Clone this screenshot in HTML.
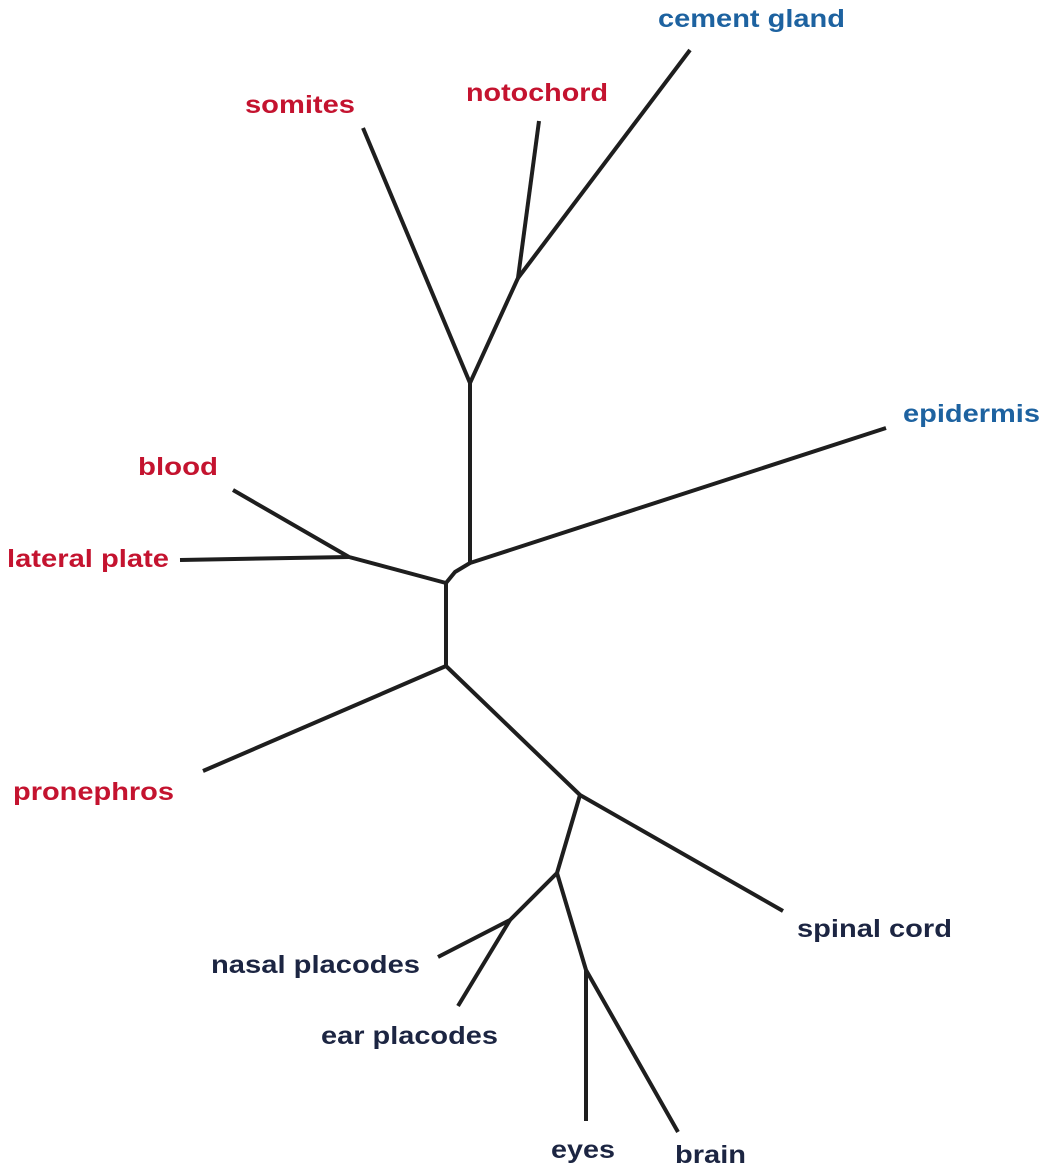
<!DOCTYPE html>
<html><head><meta charset="utf-8"><style>
html,body{margin:0;padding:0;background:#fff;}
svg{display:block;}
text{font-family:"Liberation Sans",Arial,sans-serif;font-weight:bold;font-size:25px;}
.r{fill:#c4132f}.b{fill:#1d62a0}.n{fill:#1c2542}
</style></head><body>
<svg width="1046" height="1175" viewBox="0 0 1046 1175" xmlns="http://www.w3.org/2000/svg">
<g stroke="#1e1e1e" stroke-width="4" fill="none" stroke-linecap="butt" stroke-linejoin="round">
<line x1="363" y1="128" x2="470" y2="383"/>
<line x1="539" y1="121" x2="518" y2="278"/>
<line x1="690" y1="50" x2="518" y2="278"/>
<polyline points="518,278 470,383 470,563 886,428"/>
<polyline points="470,563 455,572 446,583 349,557 233,490"/>
<line x1="180" y1="560" x2="349" y2="557"/>
<line x1="446" y1="583" x2="446" y2="666"/>
<line x1="446" y1="666" x2="203" y2="771"/>
<polyline points="446,666 580,795 783,911"/>
<polyline points="580,795 557,873 510,920 438,957"/>
<line x1="510" y1="920" x2="458" y2="1006"/>
<polyline points="557,873 586,970 678,1132"/>
<line x1="586" y1="970" x2="586" y2="1121"/>
</g>
<text class="b" x="658" y="27" textLength="187" lengthAdjust="spacingAndGlyphs">cement gland</text>
<text class="r" x="466" y="101" textLength="142" lengthAdjust="spacingAndGlyphs">notochord</text>
<text class="r" x="245" y="113" textLength="110" lengthAdjust="spacingAndGlyphs">somites</text>
<text class="b" x="903" y="422" textLength="137" lengthAdjust="spacingAndGlyphs">epidermis</text>
<text class="r" x="138" y="475" textLength="80" lengthAdjust="spacingAndGlyphs">blood</text>
<text class="r" x="7" y="567" textLength="162" lengthAdjust="spacingAndGlyphs">lateral plate</text>
<text class="r" x="13" y="800" textLength="161" lengthAdjust="spacingAndGlyphs">pronephros</text>
<text class="n" x="797" y="937" textLength="155" lengthAdjust="spacingAndGlyphs">spinal cord</text>
<text class="n" x="211" y="973" textLength="209" lengthAdjust="spacingAndGlyphs">nasal placodes</text>
<text class="n" x="321" y="1044" textLength="177" lengthAdjust="spacingAndGlyphs">ear placodes</text>
<text class="n" x="551" y="1158" textLength="64" lengthAdjust="spacingAndGlyphs">eyes</text>
<text class="n" x="675" y="1163" textLength="71" lengthAdjust="spacingAndGlyphs">brain</text>
</svg>
</body></html>
